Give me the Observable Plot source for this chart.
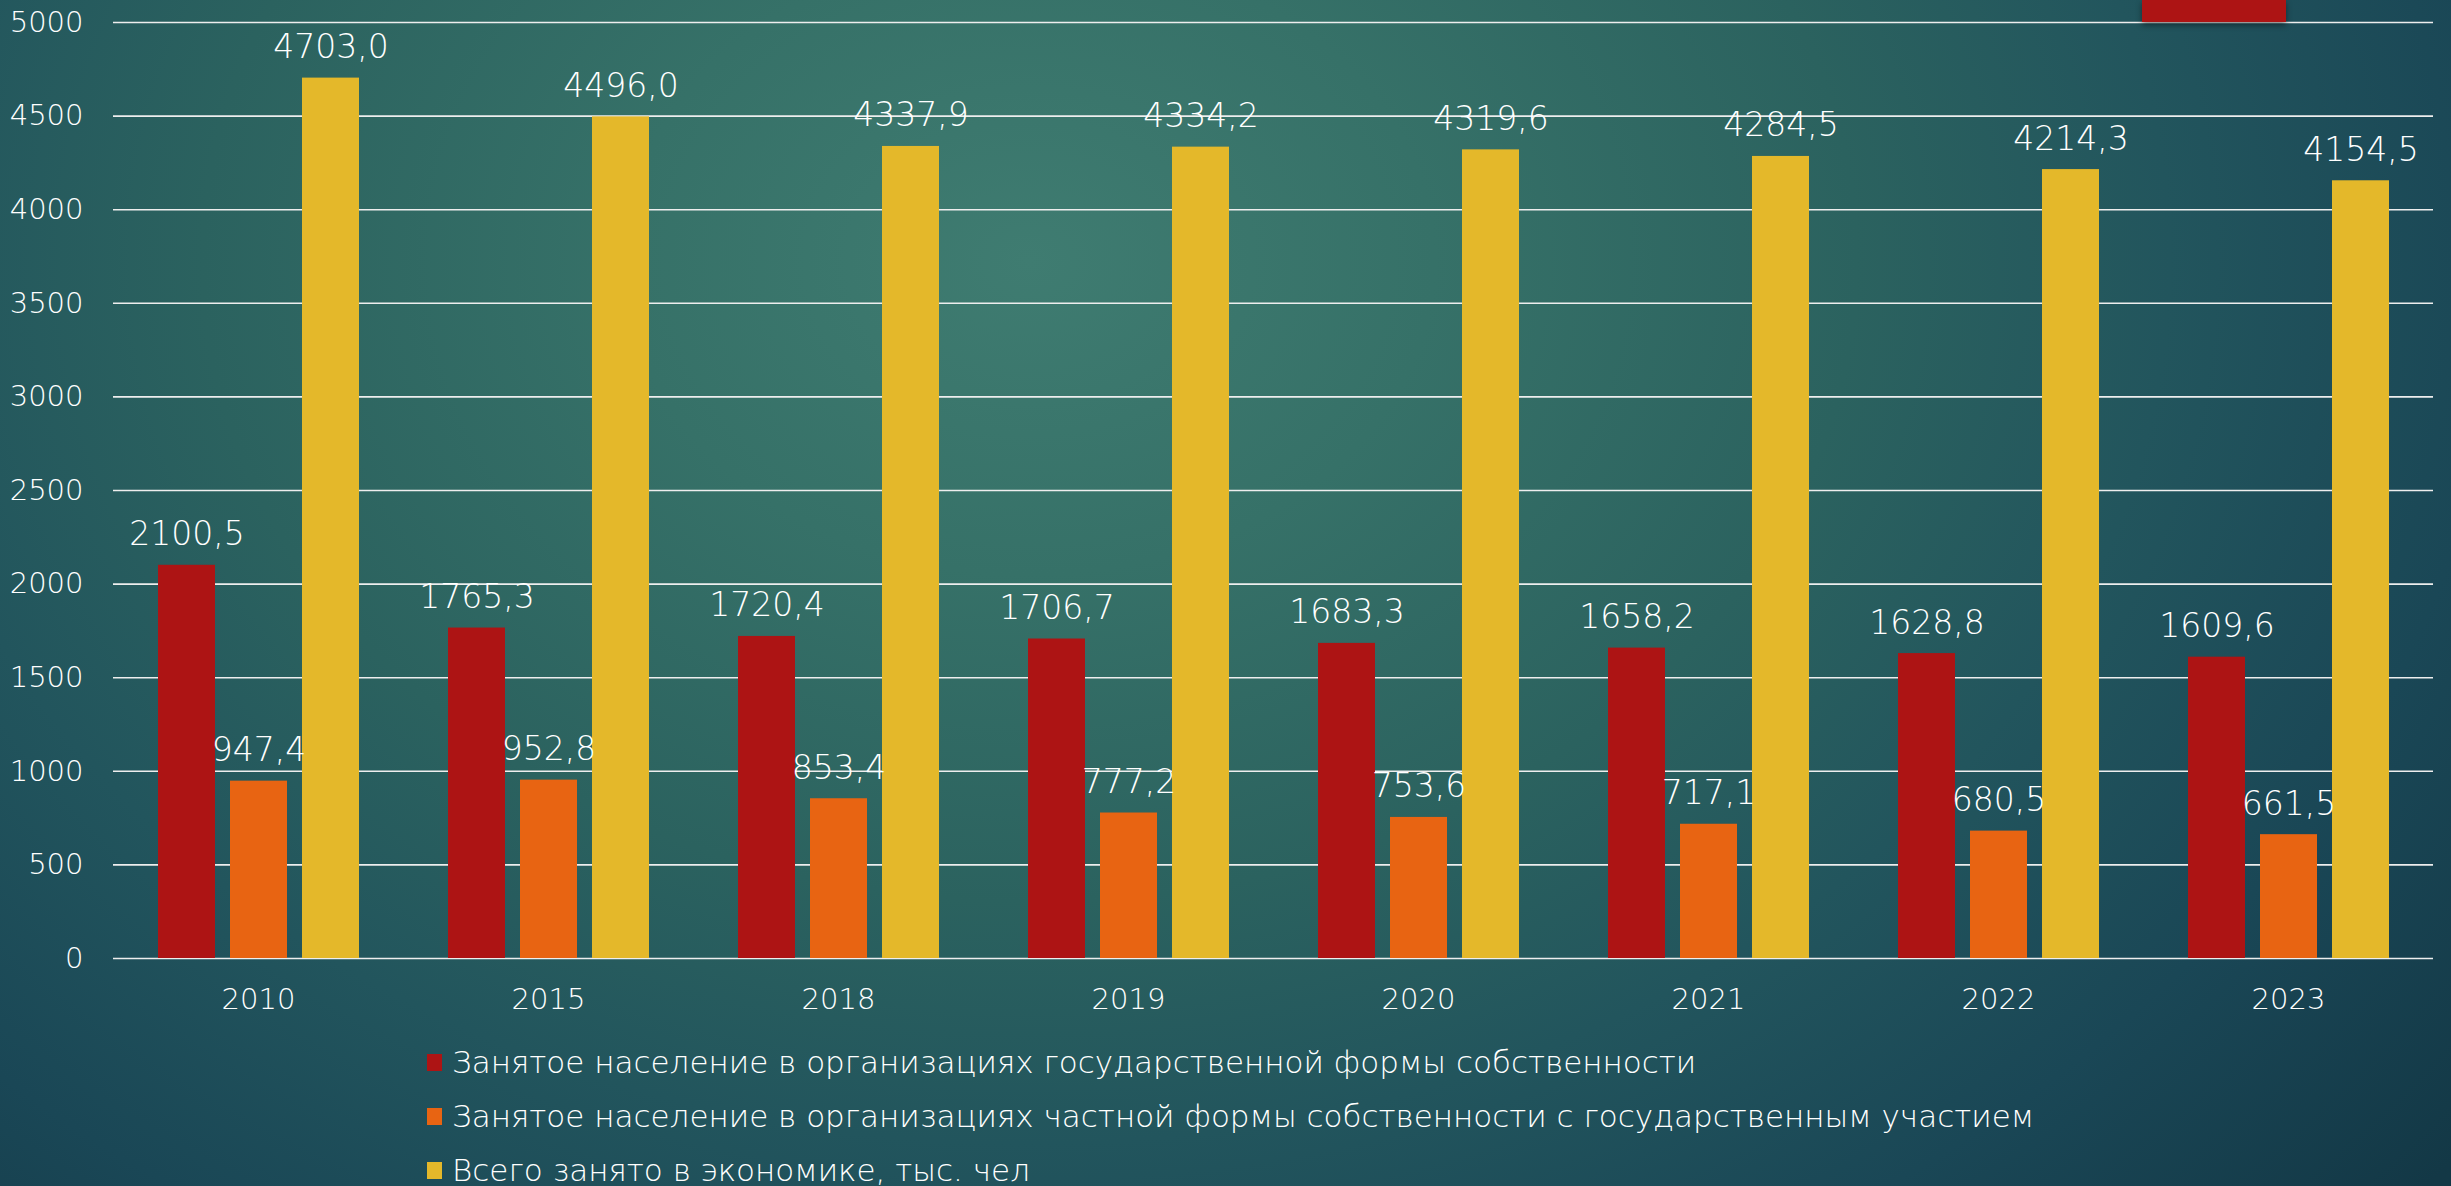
<!DOCTYPE html>
<html>
<head>
<meta charset="utf-8">
<script src="https://cdn.jsdelivr.net/npm/d3@7"></script>
<script src="https://cdn.jsdelivr.net/npm/@observablehq/plot@0.6"></script>
<style>
  html, body { margin: 0; padding: 0; width: 2451px; height: 1186px; overflow: hidden; }
  body {
    position: relative;
    background: radial-gradient(ellipse 75% 120% at 42% 22%, #3f7c71 0%, #367168 22%, #2b625f 45%, #22555d 62%, #1a4756 80%, #133846 100%);
    font-family: "DejaVu Sans", sans-serif;
    color: #fff;
  }
  #chart svg text { font-weight: 200; }
  #deco { position: absolute; left: 2142px; top: 0; width: 144px; height: 22px; background: #ad1414; box-shadow: 0 3px 6px rgba(0,0,0,0.45); }
  #legend { margin-top: 17px; padding-left: 427px; }
  .item { display: flex; align-items: center; height: 54px; font-size: 31px; font-weight: 200; white-space: nowrap; }
  .sw { width: 15px; height: 17px; margin-right: 10px; flex: none; }
</style>
</head>
<body>
<div id="chart"></div>
<div id="legend"></div>
<div id="deco"></div>
<script>
const years = ["2010", "2015", "2018", "2019", "2020", "2021", "2022", "2023"];
const seriesNames = [
  "Занятое население в организациях государственной формы собственности",
  "Занятое население в организациях частной формы собственности с государственным участием",
  "Всего занято в экономике, тыс. чел"
];
const stateOwned = [2100.5, 1765.3, 1720.4, 1706.7, 1683.3, 1658.2, 1628.8, 1609.6];
const privateWithState = [947.4, 952.8, 853.4, 777.2, 753.6, 717.1, 680.5, 661.5];
const totalEmployed = [4703.0, 4496.0, 4337.9, 4334.2, 4319.6, 4284.5, 4214.3, 4154.5];
const seriesColors = ["#ad1414", "#e86412", "#e4b82a"];
const yTicks = [0, 500, 1000, 1500, 2000, 2500, 3000, 3500, 4000, 4500, 5000];

const seriesValues = [stateOwned, privateWithState, totalEmployed];
const data = [];
years.forEach((year, i) => {
  seriesNames.forEach((s, j) => data.push({year, series: s, value: seriesValues[j][i]}));
});
const fmt = v => d3.format(".1f")(v).replace(".", ",");

const chart = Plot.plot({
  width: 2451,
  height: 1018,
  marginTop: 22,
  marginLeft: 113,
  marginRight: 18,
  marginBottom: 60,
  style: {background: "transparent", color: "#ffffff", fontFamily: "DejaVu Sans, sans-serif", overflow: "visible"},
  fx: {domain: years, padding: 0, label: null, axis: null},
  x: {domain: seriesNames, paddingInner: 0.21, paddingOuter: 0.61, axis: null},
  y: {domain: [0, 5000], label: null},
  color: {domain: seriesNames, range: seriesColors},
  marks: [
    Plot.ruleY(yTicks, {stroke: "#eeeeee", strokeWidth: 1.6}),
    Plot.barY(data, {fx: "year", x: "series", y: "value", fill: "series"}),
    Plot.text(data, {fx: "year", x: "series", y: "value", text: d => fmt(d.value), lineAnchor: "bottom", dy: -20, fill: "#ffffff", fontSize: 33}),
    Plot.axisY({ticks: yTicks, tickSize: 0, tickPadding: 30, fontSize: 29, label: null, tickFormat: d => String(d)}),
    Plot.axisFx({anchor: "bottom", tickSize: 0, tickPadding: 30, fontSize: 29, label: null, fill: "#ffffff"})
  ]
});
document.getElementById("chart").appendChild(chart);

const legend = document.getElementById("legend");
seriesNames.forEach((s, j) => {
  const item = document.createElement("div");
  item.className = "item";
  const sw = document.createElement("span");
  sw.className = "sw";
  sw.style.background = seriesColors[j];
  const label = document.createElement("span");
  label.textContent = s;
  item.appendChild(sw);
  item.appendChild(label);
  legend.appendChild(item);
});
</script>
</body>
</html>
